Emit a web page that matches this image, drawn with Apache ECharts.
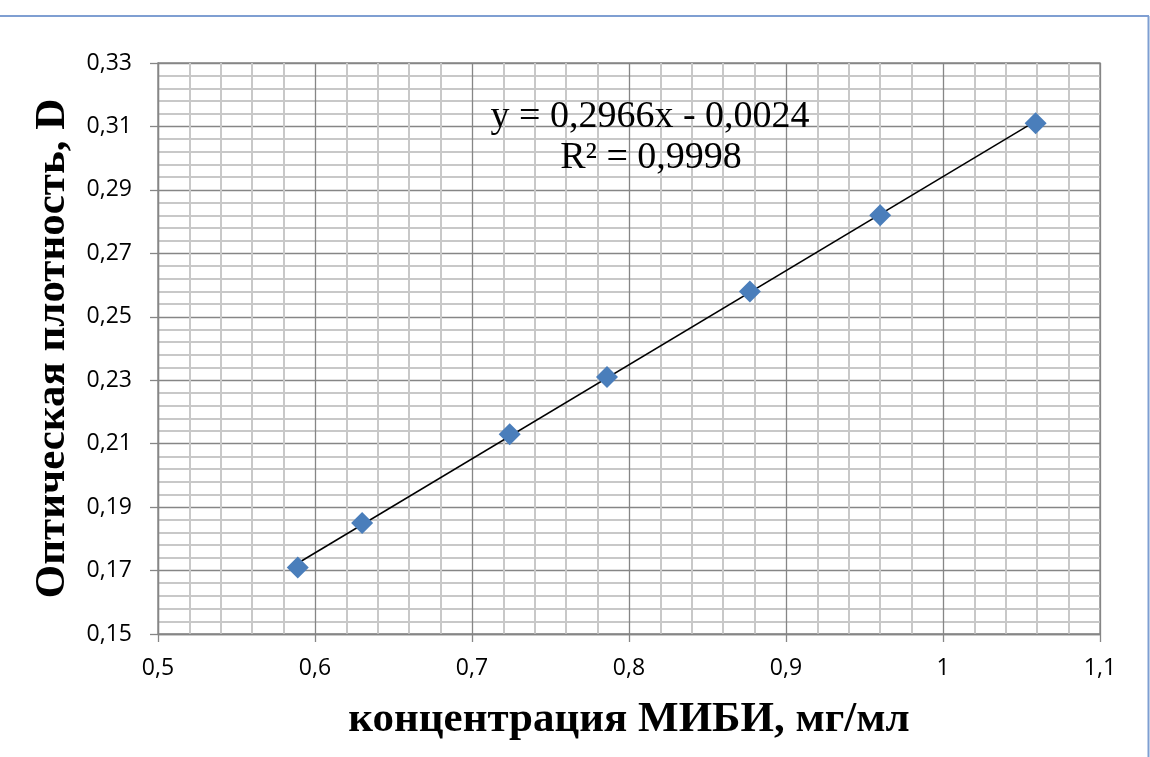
<!DOCTYPE html>
<html>
<head>
<meta charset="utf-8">
<script src="https://cdn.jsdelivr.net/npm/echarts@6/dist/echarts.min.js"></script>
<style>
html,body{margin:0;padding:0;background:#fff;}
#chart{width:1150px;height:757px;}
</style>
</head>
<body>
<div id="chart"></div>
<script>
// Data
const concentration = [0.589, 0.630, 0.724, 0.786, 0.877, 0.960, 1.059];
const density = [0.171, 0.185, 0.213, 0.231, 0.258, 0.282, 0.311];
const trendX = [0.589, 1.059];
const trendY = [0.1723, 0.3117];
const equationText = 'y = 0,2966x - 0,0024';
const r2Text = 'R² = 0,9998';
const xTitle = 'концентрация МИБИ, мг/мл';
const yTitle = 'Оптическая плотность, D';

const points = concentration.map((x, i) => [x, density[i]]);
const trend = trendX.map((x, i) => [x, trendY[i]]);

function fmt(v) {
  return String(Number(v.toFixed(3))).replace('.', ',');
}
function fmtY(v) {
  return v.toFixed(2).replace('.', ',');
}

const chart = echarts.init(document.getElementById('chart'), null, {renderer: 'canvas'});
const labelFont = {fontFamily: 'Open Sans', fontSize: 23, color: '#000'};
const titleFont = {fontFamily: 'Liberation Serif', fontWeight: 'bold', fontSize: 43, color: '#000'};
chart.setOption({
  animation: false,
  backgroundColor: '#fff',
  grid: {left: 158, right: 50, top: 63, bottom: 123, show: true, borderColor: '#868686', borderWidth: 1.3},
  xAxis: {
    type: 'value', min: 0.5, max: 1.1, interval: 0.1,
    name: xTitle, nameLocation: 'middle', nameGap: 64,
    nameTextStyle: titleFont,
    axisLine: {show: true, lineStyle: {color: '#868686', width: 1.3}},
    axisTick: {show: true, length: 8, inside: false, lineStyle: {color: '#868686', width: 1.3}},
    axisLabel: Object.assign({margin: 23, formatter: fmt}, labelFont),
    splitLine: {show: true, lineStyle: {color: '#868686', width: 1.3}},
    minorTick: {show: false, splitNumber: 5},
    minorSplitLine: {show: true, lineStyle: {color: '#c8c8c8', width: 2}}
  },
  yAxis: {
    type: 'value', min: 0.15, max: 0.33, interval: 0.02,
    name: yTitle, nameLocation: 'middle', nameGap: 84, nameRotate: 90,
    nameTextStyle: titleFont,
    axisLine: {show: true, lineStyle: {color: '#868686', width: 1.3}},
    axisTick: {show: true, length: 8, inside: false, lineStyle: {color: '#868686', width: 1.3}},
    axisLabel: Object.assign({margin: 26, formatter: fmtY}, labelFont),
    splitLine: {show: true, lineStyle: {color: '#868686', width: 1.3}},
    minorTick: {show: false, splitNumber: 5},
    minorSplitLine: {show: true, lineStyle: {color: '#c8c8c8', width: 2}}
  },
  series: [
    {
      type: 'line', data: trend, showSymbol: false, symbol: 'none',
      lineStyle: {color: '#000', width: 1.5}, z: 3, silent: true
    },
    {
      type: 'scatter', data: points, symbol: 'diamond', symbolSize: [22, 22],
      itemStyle: {color: '#4a7ebb', opacity: 1}, z: 4
    }
  ],
  graphic: [
    {type: 'line', shape: {x1: 0, y1: 16, x2: 1149, y2: 16}, style: {stroke: '#7f9fd2', lineWidth: 2}},
    {type: 'line', shape: {x1: 1148.5, y1: 16, x2: 1148.5, y2: 757}, style: {stroke: '#7f9fd2', lineWidth: 2}},
    {type: 'text', x: 650, y: 117, style: {text: equationText, align: 'center', verticalAlign: 'middle', font: '38px "Liberation Serif"', fill: '#000'}, z: 10},
    {type: 'text', x: 651, y: 158, style: {text: r2Text, align: 'center', verticalAlign: 'middle', font: '38px "Liberation Serif"', fill: '#000'}, z: 10}
  ]
});
</script>
</body>
</html>
